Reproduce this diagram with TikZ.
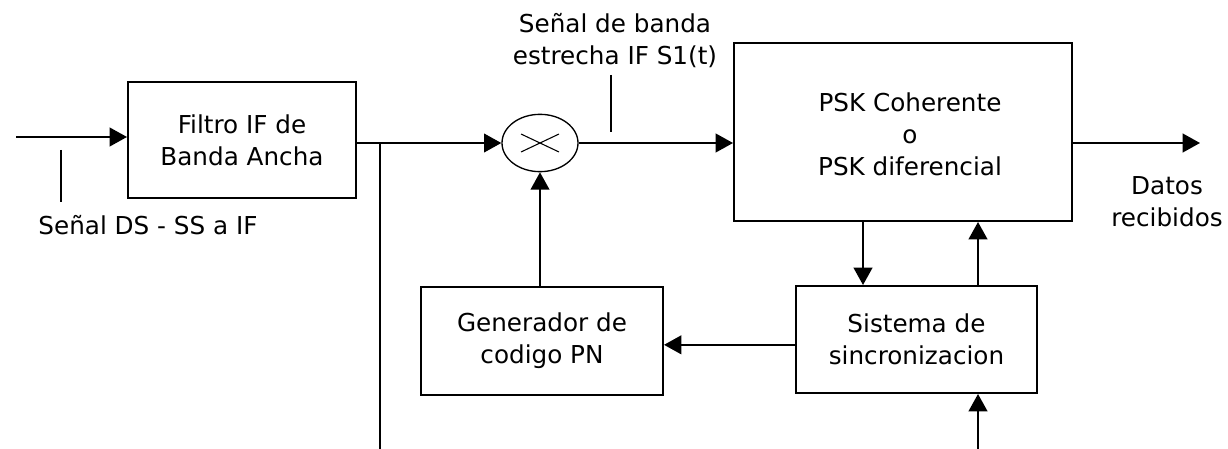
\documentclass[tikz,border=0pt]{standalone}
\usepackage{fontspec}
\setmainfont{DejaVu Sans}
\usetikzlibrary{arrows.meta,shapes.geometric}
\begin{document}
\begin{tikzpicture}[x=0.75pt,y=-0.75pt,
  line width=1.5pt,
  every node/.style={font=\fontsize{18.5pt}{24pt}\selectfont},
  blk/.style={draw,rectangle,align=center,inner sep=0pt},
  arr/.style={-{Triangle[length=13pt,width=14pt]}},
  lbl/.style={align=center,inner sep=0pt}]
\useasboundingbox (0,0) rectangle (1228,449);
% blocks
\node[blk,minimum width=171pt,minimum height=87pt] (filt) at (242,140) {Filtro IF de\\Banda Ancha};
\node[draw,ellipse,line width=1pt,minimum width=57pt,minimum height=43pt,inner sep=0pt] (mix) at (540,143) {};
\node[blk,minimum width=253.5pt,minimum height=133.5pt] (psk) at (903,132) {};
\node[lbl] (psktxt) at (910,134) {PSK Coherente\\o\\PSK diferencial};
\node[blk,minimum width=181.5pt,minimum height=81pt] (gen) at (542,341) {Generador de\\codigo PN};
\node[blk,minimum width=180.75pt,minimum height=80.25pt] (sync) at (916.5,339.5) {Sistema de\\sincronizacion};
% X in mixer
\draw[line width=0.8pt] ([shift={(-19,-9)}]mix.center) -- ([shift={(19,9)}]mix.center);
\draw[line width=0.8pt] ([shift={(-19,9)}]mix.center) -- ([shift={(19,-9)}]mix.center);
% labels
\node[lbl] (inlbl) at (148,225) {Señal DS - SS a IF};
\node[lbl] (nblbl) at (615,41) {Señal de banda\\estrecha IF S1(t)};
\node[lbl] (outlbl) at (1167,202) {Datos\\recibidos};
% coordinates
\coordinate (inS) at (16,137);
\coordinate (j) at (380,143);
\coordinate (jb) at (380,449);
\coordinate (outE) at (1200,143);
\coordinate (d1) at (863,0);
\coordinate (u1) at (978,0);
\coordinate (bot) at (978,449);
% connectors
\draw[arr] (inS) -- (inS -| filt.west);
\draw (filt.east |- j) -- (j);
\draw[arr] (j) -- (mix.west);
\draw (j) -- (jb);
\draw[arr] (mix.east) -- (mix.east -| psk.west);
\draw[arr] (psk.east |- outE) -- (outE);
\draw[arr] (mix |- gen.north) -- (mix.south);
\draw[arr] ([yshift=-4pt]sync.west) -- ([yshift=-4pt]sync.west -| gen.east);
\draw[arr] (psk.south -| d1) -- (sync.north -| d1);
\draw[arr] (sync.north -| u1) -- (psk.south -| u1);
\draw[arr] (bot) -- (sync.south -| bot);
% label ticks
\draw (61,150) -- (61,202);
\draw (611,75) -- (611,132);
\end{tikzpicture}
\end{document}
